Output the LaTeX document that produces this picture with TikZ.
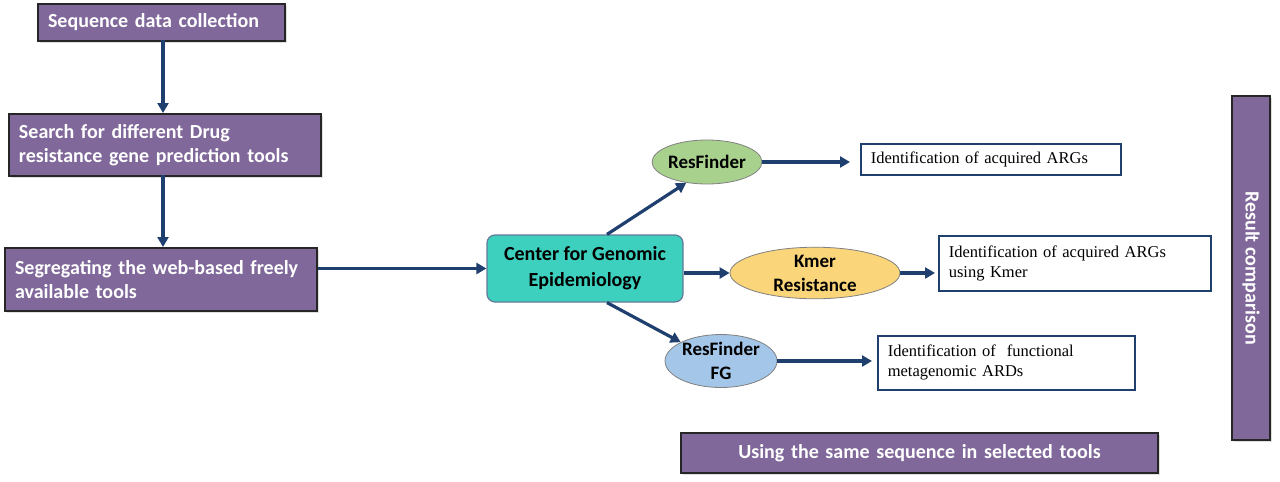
\documentclass[tikz,border=0pt]{standalone}
\usepackage{fontspec}
\setmainfont{Carlito}
\newfontfamily\serifx{Liberation Serif}
\usetikzlibrary{shapes.geometric,arrows.meta,shadows}
\definecolor{pur}{HTML}{80689A}
\definecolor{arr}{HTML}{1F3F6E}
\definecolor{teal}{HTML}{3DD0BE}
\definecolor{gr}{HTML}{A9D18E}
\definecolor{og}{HTML}{FAD57A}
\definecolor{bl}{HTML}{A4C6E8}
\begin{document}
\begin{tikzpicture}[x=1pt,y=-1pt,
 pbox/.style={draw=black!85,line width=2pt,fill=pur,text=white,font=\fontsize{20}{24}\selectfont\bfseries,align=left,inner xsep=10pt,anchor=north west,drop shadow={opacity=0.25,shadow xshift=2pt,shadow yshift=-2pt}},
 ell/.style={ellipse,draw=black!50,line width=0.8pt,font=\fontsize{19}{24}\selectfont\bfseries,align=center,inner sep=0pt},
 wbox/.style={draw=arr,line width=1.5pt,fill=white,font=\serifx\fontsize{16.5}{20}\selectfont,align=left,inner xsep=10pt,anchor=north west},
 ar/.style={draw=arr,line width=3.2pt,-{Triangle[length=10pt,width=11pt]}}]
\useasboundingbox (0,0) rectangle (1280,482);
\node[pbox,text width=227pt,minimum height=37pt] (seq) at (37,3) {Sequence data collection};
\node[pbox,text width=292pt,minimum height=62pt] (search) at (8,113) {Search for different Drug\\resistance gene prediction tools};
\node[pbox,text width=292pt,minimum height=63pt] (seg) at (4,247) {Segregating the web-based freely\\available tools};
\node[draw=arr!70,line width=1.2pt,fill=teal,rounded corners=8pt,minimum width=196pt,minimum height=67pt,font=\fontsize{20}{26}\selectfont\bfseries,align=center] (cge) at (585,268.5) {Center for Genomic\\Epidemiology};
\node[ell,fill=gr,minimum width=100pt,minimum height=44pt] (rf) at (707,162) {ResFinder};
\node[ell,fill=og,minimum width=170pt,minimum height=50pt] (km) at (815,273) {Kmer\\Resistance};
\node[ell,fill=bl,minimum width=112pt,minimum height=46pt] (fg) at (721,361) {ResFinder\\FG};
\node[wbox,text width=240pt,minimum height=31pt] (b1) at (860,143) {Identification of acquired ARGs};
\node[wbox,text width=252pt,minimum height=55pt] (b2) at (938,235) {Identification of acquired ARGs\\using Kmer};
\node[wbox,text width=237pt,minimum height=54pt] (b3) at (877,335) {Identification of~ functional\\metagenomic ARDs};
\node[pbox,text width=457pt,minimum height=40pt,align=center] (use) at (680,432) {Using the same sequence in selected tools};
\node[draw=black!85,line width=2pt,fill=pur,text=white,font=\fontsize{20}{24}\selectfont\bfseries,minimum width=344pt,minimum height=38pt,rotate=-90,drop shadow={opacity=0.25,shadow xshift=2pt,shadow yshift=-2pt}] (res) at (1251,268) {Result comparison};
\coordinate (c1) at (163,40);
\coordinate (c2) at (163,175);
\draw[ar] (c1) -- (c1|-search.north);
\draw[ar] (c2) -- (c2|-seg.north);
\draw[ar] (seg.east|-cge.west) -- (cge.west);
\draw[ar] ([xshift=22pt]cge.north) -- (rf.225);
\draw[ar] (cge.east|-km.west) -- (km.west);
\draw[ar] ([xshift=22pt]cge.south) -- (fg.155);
\draw[ar] (rf.east) -- ([xshift=-10pt]b1.west|-rf.east);
\draw[ar] (km.east) -- ([xshift=-3pt]b2.west|-km.east);
\draw[ar] (fg.east) -- ([xshift=-5pt]b3.west|-fg.east);
\end{tikzpicture}
\end{document}
